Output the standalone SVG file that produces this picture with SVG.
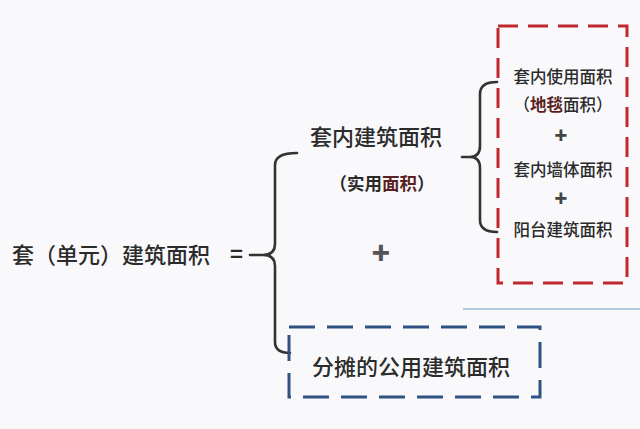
<svg xmlns="http://www.w3.org/2000/svg" width="640" height="429" viewBox="0 0 640 429">
<style>
text{font-family:"Noto Sans CJK SC","Noto Sans",sans-serif;fill:#2b2b2b;font-weight:500}
.big{font-size:22px}
.sm{font-size:16.5px}
.sub{font-size:17.5px;font-weight:bold}
.eq{font-weight:bold}
.plus{font-size:30px;font-weight:900;fill:#555}
.plus2{font-size:21px;font-weight:900;fill:#444}
.brace{fill:none;stroke:#333;stroke-width:2.6;stroke-linecap:round;stroke-linejoin:round}
.red{fill:none;stroke:#c0282d;stroke-width:3;stroke-dasharray:20 10}
.blue{fill:none;stroke:#2f5283;stroke-width:3;stroke-dasharray:26 12}
.dk{fill:#5a1f22;font-weight:bold}
</style>
<rect width="640" height="429" fill="#f9f9fb"/>
<g id="connectors">
<path class="brace" d="M297,153 Q275,153 275,165 L275,244 Q275,255 263,255 L250,255 M263,255 Q275,255 275,266 L275,342 Q275,353 290,353"/>
<path class="brace" d="M497,82 Q480,82 480,94 L480,146 Q480,157 470,157 L462,157 M470,157 Q480,157 480,168 L480,220 Q480,232 497,232"/>
<line x1="463" y1="309" x2="640" y2="309" stroke="#9db8d2" stroke-width="1.5"/>
</g>
<g id="total">
<text class="big" x="12" y="263">套（单元）建筑面积</text>
<text class="big eq" x="230" y="262">=</text>
</g>
<g id="inner">
<text class="big" x="376" y="145" text-anchor="middle">套内建筑面积</text>
<text class="sub" x="382" y="190" text-anchor="middle">（实用<tspan class="dk">面积</tspan>）</text>
</g>
<g id="plus-main"><text class="plus" x="381" y="264" text-anchor="middle">+</text></g>
<g id="detail-box">
<path class="red" d="M498,26 L627,26 L627,283 L498,283 Z"/>
<text class="sm" x="563" y="83" text-anchor="middle">套内使用面积</text>
<text class="sm" x="563" y="111" text-anchor="middle">（<tspan class="dk">地毯</tspan>面积）</text>
<text class="plus2" x="561" y="143" text-anchor="middle">+</text>
<text class="sm" x="563" y="176" text-anchor="middle">套内墙体面积</text>
<text class="plus2" x="561" y="206" text-anchor="middle">+</text>
<text class="sm" x="563" y="236" text-anchor="middle">阳台建筑面积</text>
</g>
<g id="shared-box">
<path class="blue" d="M289,327 L540,327 L540,397 L289,397 Z"/>
<text class="big" x="411" y="375" text-anchor="middle">分摊的公用建筑面积</text>
</g>
</svg>
